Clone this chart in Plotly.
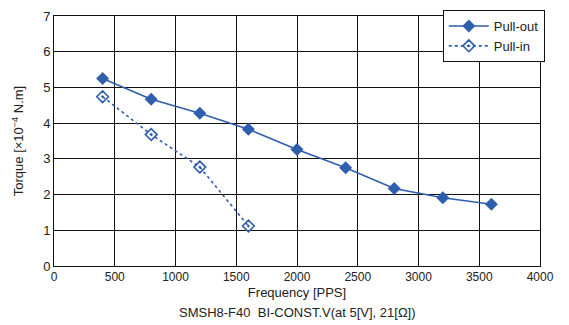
import plotly.graph_objects as go

freq_out = [400, 800, 1200, 1600, 2000, 2400, 2800, 3200, 3600]
torque_out = [5.25, 4.67, 4.28, 3.83, 3.26, 2.75, 2.17, 1.91, 1.73]
freq_in = [400, 800, 1200, 1600]
torque_in = [4.74, 3.68, 2.77, 1.12]

blue = "#2f5eae"
fnt = "Liberation Sans, Arial, sans-serif"

fig = go.Figure()
fig.add_trace(go.Scatter(x=freq_out, y=torque_out, name="Pull-out", mode="lines+markers",
                         line=dict(color=blue, width=1.6),
                         marker=dict(symbol="diamond", size=10, color=blue)))
fig.add_trace(go.Scatter(x=freq_in, y=torque_in, name="Pull-in", mode="lines+markers",
                         line=dict(color=blue, width=1.6, dash="dot"),
                         marker=dict(symbol="diamond-open-dot", size=9, color=blue, line=dict(width=1.6))))

fig.update_layout(
    width=569, height=325,
    margin=dict(l=54, r=29, t=10, b=59),
    plot_bgcolor="white", paper_bgcolor="white",
    font=dict(family=fnt, size=13, color="#222"),
    showlegend=True,
    legend=dict(x=0.8, y=1.024, xanchor="left", yanchor="top", bgcolor="white",
                bordercolor="#111", borderwidth=1, font=dict(size=13),
                itemwidth=40, tracegroupgap=0),
    xaxis=dict(range=[0, 4000], dtick=500, showgrid=True, gridcolor="#111", gridwidth=1,
               showline=True, linecolor="#111", mirror=True, zeroline=False,
               ticks="", tickfont=dict(size=12),
               title=dict(text="Frequency [PPS]", font=dict(size=13), standoff=4)),
    yaxis=dict(range=[0, 7], dtick=1, showgrid=True, gridcolor="#111", gridwidth=1,
               showline=True, linecolor="#111", mirror=True, zeroline=False,
               ticks="", tickfont=dict(size=13),
               title=dict(text="Torque [×10<sup>−4</sup> N.m]", font=dict(size=13), standoff=16)),
)
fig.add_annotation(text="SMSH8-F40  BI-CONST.V(at 5[V], 21[Ω])", xref="paper", yref="paper",
                   x=0.5, y=0, yanchor="middle", yshift=-46, showarrow=False,
                   font=dict(size=13, color="#222"))
fig.write_html("out.html")
